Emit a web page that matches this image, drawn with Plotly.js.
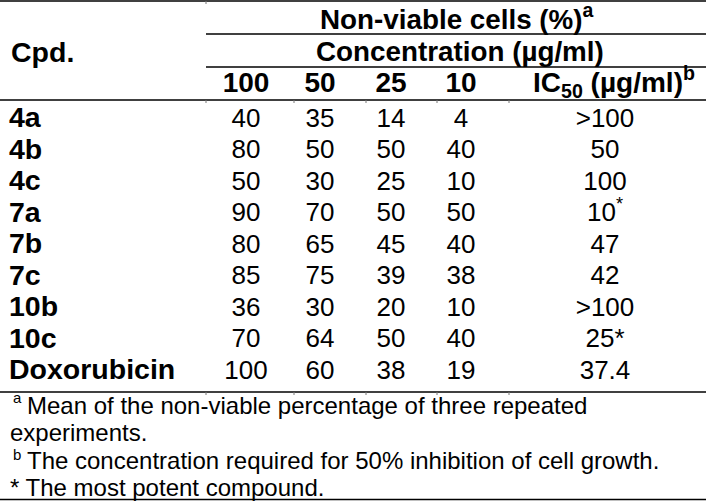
<!DOCTYPE html>
<html>
<head>
<meta charset="utf-8">
<script src="https://cdn.plot.ly/plotly-3.0.1.min.js"></script>
<style>html,body{margin:0;padding:0;background:#fff;}#chart{width:706px;height:501px;}</style>
</head>
<body>
<div id="chart"></div>
<script>
// ---- data ----
const compounds = ['4a', '4b', '4c', '7a', '7b', '7c', '10b', '10c', 'Doxorubicin'];
const concentrations = ['100', '50', '25', '10'];
const conc100 = [40, 80, 50, 90, 80, 85, 36, 70, 100];
const conc50 = [35, 50, 30, 70, 65, 75, 30, 64, 60];
const conc25 = [14, 50, 25, 50, 45, 39, 20, 50, 38];
const conc10 = [4, 40, 10, 50, 40, 38, 10, 40, 19];
const ic50 = ['>100', '50', '100', '10', '47', '42', '>100', '25*', '37.4'];
const ic50Marks = ['', '', '', '*', '', '', '', '', ''];
const footnotes = [
  'Mean of the non-viable percentage of three repeated',
  'experiments.',
  'The concentration required for 50% inhibition of cell growth.',
  '* The most potent compound.'
];
const footnoteMarks = ['a', '', 'b', ''];

// ---- layout geometry (pixels) ----
const W = 706, H = 501;
const colX = [246, 320, 391, 461, 605];
const rowY0 = 120, rowStep = 31.5;
const rowY = compounds.map((_, i) => rowY0 + i * rowStep);
const FONT = 'Liberation Sans, Arial, sans-serif';
const dataSize = 26, headSize = 27.8, labelSize = 28.5, colHeadSize = 28, noteSize = 24;

const valueCols = [conc100, conc50, conc25, conc10];
const traces = [];
// row labels
traces.push({
  type: 'scatter', mode: 'text', x: compounds.map(() => 9), y: rowY,
  text: compounds, textposition: 'middle right',
  textfont: {family: FONT, size: labelSize, color: '#000', weight: 'bold'},
  hoverinfo: 'skip', showlegend: false
});
valueCols.forEach((vals, c) => {
  traces.push({
    type: 'scatter', mode: 'text', x: vals.map(() => colX[c]), y: rowY,
    text: vals.map(String), textposition: 'middle center',
    textfont: {family: FONT, size: dataSize, color: '#000'},
    hoverinfo: 'skip', showlegend: false
  });
});
traces.push({
  type: 'scatter', mode: 'text', x: ic50.map(() => colX[4]), y: rowY,
  text: ic50.map((v, i) => ic50Marks[i] ? v + '<sup>' + ic50Marks[i] + '</sup>' : v),
  textposition: 'middle center',
  textfont: {family: FONT, size: dataSize, color: '#000'},
  hoverinfo: 'skip', showlegend: false
});
// header row
traces.push({
  type: 'scatter', mode: 'text', x: colX.slice(0, 4).concat([614]), y: colX.map(() => 85),
  text: concentrations.concat(['IC<sub>50</sub> (µg/ml)<sup>b</sup>']),
  textposition: 'middle center',
  textfont: {family: FONT, size: colHeadSize, color: '#000', weight: 'bold'},
  hoverinfo: 'skip', showlegend: false
});

const annotations = [
  {x: 457, y: 17, text: 'Non-viable cells (%)<sup>a</sup>', size: headSize, bold: true, xanchor: 'center'},
  {x: 460, y: 51, text: 'Concentration (µg/ml)', size: headSize, bold: true, xanchor: 'center'},
  {x: 9, y: 52, text: 'Cpd.', size: labelSize, bold: true, xanchor: 'left'}
].map(a => ({
  x: a.x, y: a.y, xref: 'x', yref: 'y', text: a.text, showarrow: false,
  xanchor: a.xanchor, yanchor: 'middle',
  font: {family: FONT, size: a.size, color: '#000', weight: a.bold ? 'bold' : 'normal'}
}));
const noteY = [405, 432.5, 460, 487.3];
const markLift = [8, 0, 6, 0];
footnotes.forEach((t, i) => {
  const mark = footnoteMarks[i];
  annotations.push({
    x: mark ? 25 : 8, y: noteY[i], xref: 'x', yref: 'y', text: t, showarrow: false,
    xanchor: 'left', yanchor: 'middle',
    font: {family: FONT, size: noteSize, color: '#000'}
  });
  if (mark) annotations.push({
    x: 11, y: noteY[i] - markLift[i], xref: 'x', yref: 'y', text: mark, showarrow: false,
    xanchor: 'left', yanchor: 'middle',
    font: {family: FONT, size: 15, color: '#000'}
  });
});

const line = (x0, x1, y) => ({type: 'line', xref: 'x', yref: 'y', x0, x1, y0: y, y1: y,
  layer: 'below', line: {color: '#000', width: 1.6}});
const stub = (x, y) => ({type: 'line', xref: 'x', yref: 'y', x0: x, x1: x, y0: y, y1: y + 3,
  layer: 'below', line: {color: '#777', width: 1}});
const bounds = [206, 294, 366, 437, 509];
const shapes = [
  line(0, W, 1), line(206, W, 34), line(206, W, 67), line(0, W, 100),
  line(0, W, 392), line(0, W, 499.5)
];
bounds.forEach(b => { shapes.push(stub(b, 100)); shapes.push(stub(b, 392)); });
shapes.push(stub(206, 1));

Plotly.newPlot('chart', traces, {
  width: W, height: H, margin: {l: 0, r: 0, t: 0, b: 0},
  paper_bgcolor: '#fff', plot_bgcolor: '#fff',
  xaxis: {range: [0, W], visible: false, fixedrange: true},
  yaxis: {range: [H, 0], visible: false, fixedrange: true},
  shapes, annotations, showlegend: false
}, {staticPlot: true, displayModeBar: false});
</script>
</body>
</html>
